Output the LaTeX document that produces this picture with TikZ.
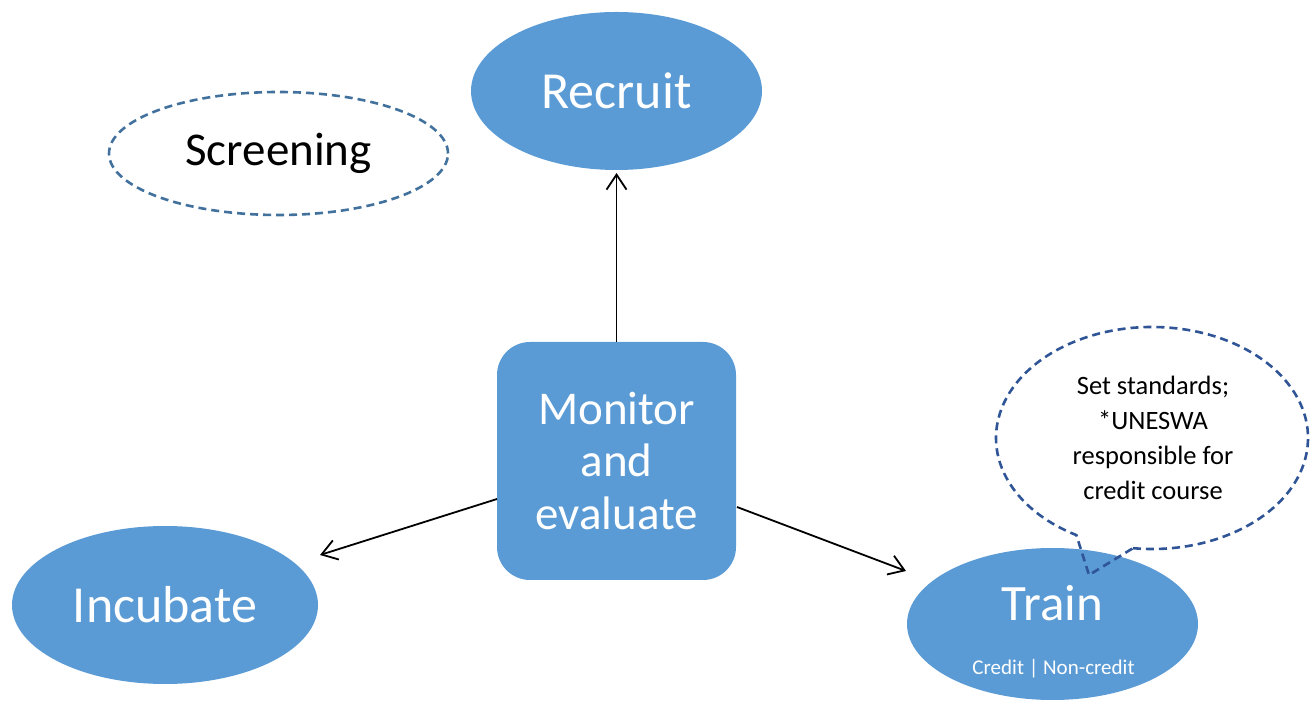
\documentclass[tikz,border=0pt]{standalone}
\usepackage{fontspec}
\setmainfont{Carlito}
\usetikzlibrary{shapes.geometric,arrows.meta,calc}
\definecolor{blueFill}{HTML}{5B9BD5}
\definecolor{scrLine}{HTML}{41719C}
\definecolor{bubLine}{HTML}{2F5597}
\begin{document}
\begin{tikzpicture}[x=1pt,y=1pt,
  bluebox/.style={fill=blueFill,draw=none,text=white,inner sep=0pt,outer sep=0pt},
  blueell/.style={bluebox,ellipse},
  link/.style={draw=black,line width=1.8pt,-{Straight Barb[length=15pt,width=20pt]}},
  dashline/.style={dash pattern=on 8pt off 5pt,line width=2.6pt}
]
\useasboundingbox (0,0) rectangle (1311,704);

% shapes
\node[blueell,minimum width=291pt,minimum height=158pt,font=\fontsize{52}{60}\selectfont] (rec) at (616.5,613) {Recruit};
\node[ellipse,draw=scrLine,dashline,inner sep=0pt,outer sep=0pt,minimum width=339pt,minimum height=123pt,font=\fontsize{47}{56}\selectfont] (scr) at (278.5,550.5) {Screening};
\node[bluebox,rounded corners=33pt,minimum width=239pt,minimum height=238pt,align=center,font=\fontsize{47}{52.5}\selectfont] (mon) at (616.5,243) {Monitor\\and\\evaluate};
\node[blueell,minimum width=306pt,minimum height=158pt,font=\fontsize{52}{60}\selectfont] (inc) at (165,99) {Incubate};
\node[blueell,minimum width=291pt,minimum height=152pt] (trn) at (1052.5,80) {};
\node[anchor=base,text=white,font=\fontsize{51}{60}\selectfont] (trntxt) at ([yshift=4pt]trn.center) {Train};
\node[anchor=base,text=white,font=\fontsize{21}{25}\selectfont] (trnsub) at ([xshift=1pt,yshift=-50pt]trn.center) {Credit | Non-credit};

% callout bubble
\coordinate (bubc) at (1152,266);
\coordinate (tip) at (1089,129);
\draw[draw=bubLine,dashline] ($(bubc)+(263:156pt and 111pt)$) arc[start angle=263,end angle=601,x radius=156pt,y radius=111pt] -- (tip) -- cycle;
\node[align=center,font=\fontsize{26.5}{35}\selectfont] (bubtxt) at (1153,266) {Set standards;\\*UNESWA\\responsible for\\credit course};

% connectors
\coordinate (lstart) at ([yshift=-38pt]mon.west);
\coordinate (lend) at ([xshift=155pt,yshift=50pt]inc.center);
\coordinate (rstart) at ([xshift=1pt,yshift=-46pt]mon.east);
\coordinate (rend) at ([xshift=-146.5pt,yshift=53pt]trn.center);
\draw[link] (mon.north) -- ([yshift=-3pt]rec.south);
\draw[link] (lstart) -- (lend);
\draw[link] (rstart) -- (rend);
\end{tikzpicture}
\end{document}
